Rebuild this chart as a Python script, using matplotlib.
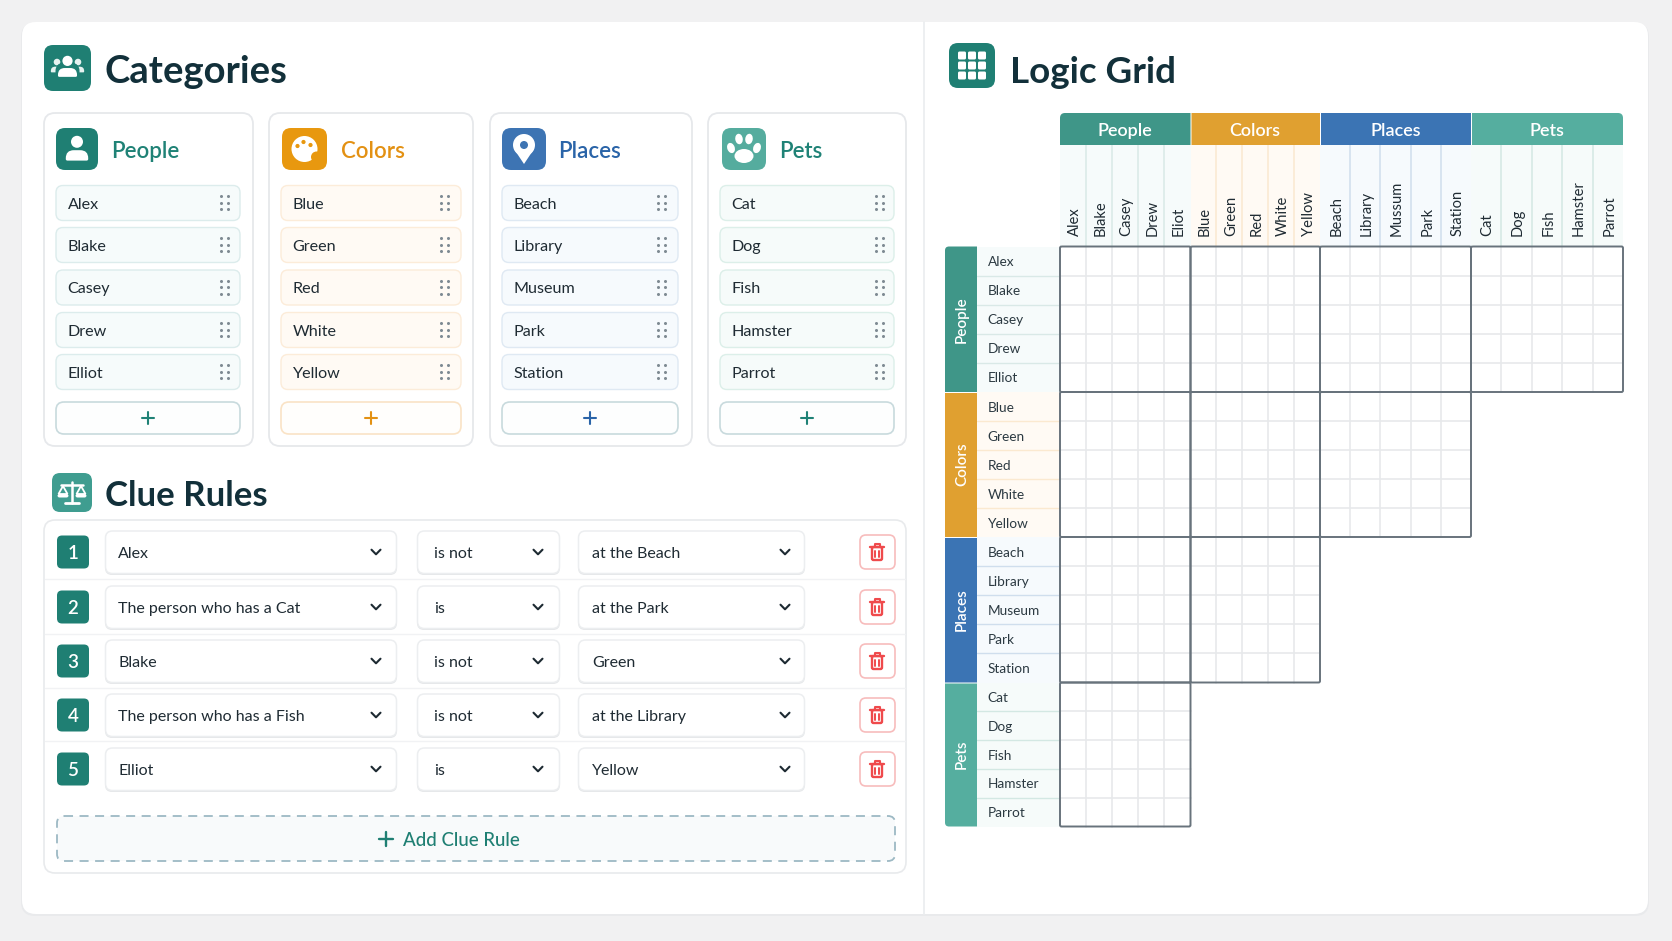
import matplotlib
matplotlib.use('Agg')
import matplotlib.pyplot as plt
from matplotlib.patches import PathPatch, Circle, Ellipse, Polygon, Rectangle
from matplotlib.path import Path

plt.rcParams['font.family'] = ['Lato', 'DejaVu Sans']

# data
categories = ['People', 'Colors', 'Places', 'Pets']
people = ['Alex', 'Blake', 'Casey', 'Drew', 'Elliot']
colors = ['Blue', 'Green', 'Red', 'White', 'Yellow']
places = ['Beach', 'Library', 'Museum', 'Park', 'Station']
pets = ['Cat', 'Dog', 'Fish', 'Hamster', 'Parrot']
# the grid header spells a few of them differently
col_people = ['Alex', 'Blake', 'Casey', 'Drew', 'Eliot']
col_places = ['Beach', 'Library', 'Mussum', 'Park', 'Station']

clue_subject = ['Alex', 'The person who has a Cat', 'Blake', 'The person who has a Fish', 'Elliot']
clue_verb = ['is not', 'is', 'is not', 'is not', 'is']
clue_object = ['at the Beach', 'at the Park', 'Green', 'at the Library', 'Yellow']

# styles
DARK = '#12303a'
ITEM = '#1f2b33'
TEAL = '#1f7f73'
icon_col = ['#1f7f73', '#e8980f', '#3d74b3', '#55ac9e']
label_col = ['#1f8276', '#e39113', '#2a64a8', '#1f8276']
band_col = ['#3f9688', '#e0a030', '#3b74b4', '#55ae9f']
tint_col = ['#f6fbfb', '#fffaf4', '#f6fafd', '#f6fbfa']
edge_col = ['#dcecec', '#fcecd9', '#dfe9f3', '#dcefe9']
line_col = ['#d9e9e7', '#fbe9d0', '#cfdeed', '#d3e8e3']

fig = plt.figure(figsize=(16.72, 9.41), dpi=100, facecolor='#f1f1f2')
ax = fig.add_axes([0, 0, 1, 1])
ax.set_xlim(0, 1672)
ax.set_ylim(941, 0)
ax.axis('off')


def box_path(x0, y0, x1, y1, tl=0, tr=0, br=0, bl=0):
    v = [(x0 + tl, y0), (x1 - tr, y0), (x1, y0), (x1, y0 + tr), (x1, y1 - br), (x1, y1),
         (x1 - br, y1), (x0 + bl, y1), (x0, y1), (x0, y1 - bl), (x0, y0 + tl), (x0, y0), (x0 + tl, y0)]
    c = [Path.MOVETO, Path.LINETO, Path.CURVE3, Path.CURVE3, Path.LINETO, Path.CURVE3, Path.CURVE3,
         Path.LINETO, Path.CURVE3, Path.CURVE3, Path.LINETO, Path.CURVE3, Path.CURVE3]
    return Path(v, c)


def box(x0, y0, x1, y1, r=8, fc='white', ec='none', lw=1.2, z=2, ls='-', radii=None):
    radii = radii if radii else (r, r, r, r)
    p = PathPatch(box_path(x0, y0, x1, y1, *radii), facecolor=fc, edgecolor=ec, lw=lw, zorder=z, linestyle=ls)
    ax.add_patch(p)
    return p


def txt(x, y, s, size=12, color=ITEM, ha='left', weight='normal', rot=0, va='center_baseline', z=8):
    ax.text(x, y, s, fontsize=size, color=color, ha=ha, va=va, fontweight=weight, rotation=rot,
            rotation_mode='anchor' if rot else 'default', zorder=z)


def line(xs, ys, color, lw=1.2, z=6, **kw):
    ax.plot(xs, ys, color=color, lw=lw, zorder=z, solid_capstyle=kw.pop('cap', 'round'), **kw)


def person(cx, cy, s, z=7, color='white'):
    ax.add_patch(Circle((cx, cy - 0.36 * s), 0.30 * s, fc=color, ec='none', zorder=z))
    box(cx - 0.56 * s, cy + 0.06 * s, cx + 0.56 * s, cy + 0.58 * s, fc=color, z=z,
        radii=(0.4 * s, 0.4 * s, 0.08 * s, 0.08 * s))


def icon_group(cx, cy, base):
    for dx in (-10.5, 10.5):
        person(cx + dx, cy - 1, 11, z=6, color='#e6f2f0')
    box(cx - 12, cy - 4, cx + 12, cy + 14, fc=base, z=6.5, radii=(8, 8, 2, 2))
    person(cx, cy, 17)


def icon_palette(cx, cy, base):
    ax.add_patch(Circle((cx, cy), 13, fc='white', ec='none', zorder=6))
    ax.add_patch(Circle((cx + 12, cy + 8), 5.5, fc=base, ec='none', zorder=6.5))
    for dx, dy in [(-7, -3), (-1, -7), (6, -4)]:
        ax.add_patch(Circle((cx + dx, cy + dy), 2.1, fc=base, ec='none', zorder=7))


def icon_pin(cx, cy, base):
    ax.add_patch(Circle((cx, cy - 4), 11, fc='white', ec='none', zorder=6))
    ax.add_patch(Polygon([(cx - 10, cy), (cx + 10, cy), (cx, cy + 15)], fc='white', ec='none', zorder=6))
    ax.add_patch(Circle((cx, cy - 4), 4, fc=base, ec='none', zorder=7))


def icon_paw(cx, cy, base):
    for dx, dy, a in [(-13, -1, -20), (-5, -10, -8), (5, -10, 8), (13, -1, 20)]:
        ax.add_patch(Ellipse((cx + dx, cy + dy), 7.5, 10.5, angle=a, fc='white', ec='none', zorder=6))
    ax.add_patch(Ellipse((cx, cy + 7), 19, 14, fc='white', ec='none', zorder=6))


def icon_scales(cx, cy):
    line([cx, cx], [cy - 11, cy + 10], 'white', 1.8)
    line([cx - 7, cx + 7], [cy + 10, cy + 10], 'white', 2)
    line([cx - 11, cx + 11], [cy - 8, cy - 8], 'white', 1.8)
    for dx in (-9, 9):
        ax.add_patch(Polygon([(cx + dx, cy - 7), (cx + dx - 4.5, cy + 1), (cx + dx + 4.5, cy + 1)], fc='none', ec='white', lw=1.3, zorder=6))
        box(cx + dx - 5.5, cy + 1, cx + dx + 5.5, cy + 4.5, r=2, fc='white', z=6)


def icon_grid(cx, cy):
    for i in (-1, 0, 1):
        for j in (-1, 0, 1):
            box(cx + i * 10 - 4, cy + j * 10 - 4, cx + i * 10 + 4, cy + j * 10 + 4, r=1.5, fc='white', z=6)


def icon_trash(cx, cy):
    c = '#ef4a4c'
    box(cx - 5, cy - 5, cx + 5, cy + 8, r=1.5, fc='none', ec=c, lw=1.7, z=6)
    line([cx - 7, cx + 7], [cy - 5.5, cy - 5.5], c, 1.7)
    line([cx - 2.5, cx - 2.5, cx + 2.5, cx + 2.5], [cy - 5.5, cy - 8, cy - 8, cy - 5.5], c, 1.5)
    line([cx - 1.8, cx - 1.8], [cy - 1.5, cy + 5], c, 1.4)
    line([cx + 1.8, cx + 1.8], [cy - 1.5, cy + 5], c, 1.4)


def chevron(cx, cy):
    line([cx - 4.5, cx, cx + 4.5], [cy - 2.3, cy + 2.3, cy - 2.3], '#1d2a32', 1.5)


def plus(cx, cy, s, color, lw=1.7):
    line([cx - s, cx + s], [cy, cy], color, lw)
    line([cx, cx], [cy - s, cy + s], color, lw)


# page card
box(21, 23, 1649, 916, r=14, fc='#e9eaec', z=1)
box(22, 22, 1648, 914, r=14, fc='white', z=1.2)
line([924, 924], [22, 914], '#eceef0', 1.3, z=1.5)

# Categories
box(44, 45, 91, 91, r=9, fc=TEAL)
icon_group(67.5, 67, TEAL)
txt(105, 69, 'Categories', 27.5, DARK, weight='bold')

card_x = [(44, 253), (269, 473), (490, 692), (708, 906)]
item_x = [(56, 240), (281, 461), (502, 678), (720, 894)]
icon_x = [(56, 98), (282, 327), (502, 546), (722, 766)]
label_x = [111.5, 340.5, 558.5, 779]
grab_x = [224.5, 444.5, 661.5, 879.5]
item_y = [203, 245, 287.5, 330, 372]
lists = [people, colors, places, pets]

for k, name in enumerate(categories):
    box(*[card_x[k][0], 113, card_x[k][1], 446], r=11, fc='white', ec='#e6e8eb', lw=1.3)
    box(icon_x[k][0], 128, icon_x[k][1], 170, r=9, fc=icon_col[k], z=3)
    cx = sum(icon_x[k]) / 2
    if k == 0:
        person(cx, 149, 20)
    elif k == 1:
        icon_palette(cx, 149, icon_col[k])
    elif k == 2:
        icon_pin(cx, 149, icon_col[k])
    else:
        icon_paw(cx, 149, icon_col[k])
    txt(label_x[k], 149, name, 16, label_col[k], weight='semibold')
    for y, item in zip(item_y, lists[k]):
        box(item_x[k][0], y - 17.5, item_x[k][1], y + 17.5, r=7, fc=tint_col[k], ec=edge_col[k], lw=1.0, z=3)
        txt(item_x[k][0] + 11.5, y, item, 11.6, ITEM)
        gx = [grab_x[k] - 3.2] * 3 + [grab_x[k] + 3.2] * 3
        gy = [y - 6.5, y, y + 6.5] * 2
        ax.plot(gx, [g - 0.5 for g in gy], 'o', ms=2.2, color='#7f8b93', mec='none', zorder=6)
    box(item_x[k][0], 402, item_x[k][1], 434, r=8, fc='#fdfefe' if k != 1 else '#fffefc',
        ec='#fae3c6' if k == 1 else '#c8dadd', lw=1.2, z=3)
    plus(sum(item_x[k]) / 2, 418, 6, label_col[k], 1.5)

# Clue rules
box(52, 473, 92, 512, r=8, fc='#3f9d90')
icon_scales(72, 493)
txt(105, 493, 'Clue Rules', 25, DARK, weight='bold')
box(44, 520, 906, 873, r=11, fc='white', ec='#e8eaec', lw=1.2)

row_y = [552, 607, 661, 715, 769]
fields = [(105, 397, 376, 118), (417, 560, 538, 434), (578, 805, 785, 592)]
for y in [579, 634, 688, 741]:
    line([45, 905], [y, y], '#f1f2f4', 1.0, z=2.5)
for i, y in enumerate(row_y):
    box(57, y - 16.5, 89, y + 16.5, r=5, fc=TEAL, z=3)
    txt(73, y, str(i + 1), 13.5, 'white', ha='center', weight='semibold')
    values = [clue_subject[i], clue_verb[i], clue_object[i]]
    for (x0, x1, chev, tx), v in zip(fields, values):
        box(x0, y - 20, x1, y + 23, r=7, fc='#e5e7e9', z=3)
        box(x0 + 0.5, y - 21, x1 - 0.5, y + 21.5, r=7, fc='white', ec='#eceef0', lw=1.1, z=3.2)
        txt(tx, y + 0.5, v, 11.5, ITEM)
        chevron(chev, y)
    box(860, y - 17, 895, y + 17, r=6, fc='white', ec='#f7bcbc', lw=1.2, z=3)
    icon_trash(877, y)

box(57, 816, 895, 861, r=7, fc='#f8fafb', ec='#9db9c4', lw=1.3, z=3, ls=(0, (5, 3.6)))
plus(386, 838.5, 7, TEAL, 1.7)
txt(403, 839, 'Add Clue Rule', 13.4, TEAL, weight='medium')

# Logic grid
box(949, 43, 995, 88, r=9, fc=TEAL)
icon_grid(972, 65.5)
txt(1010, 69, 'Logic Grid', 26.5, DARK, weight='bold')

col_edges = [1060, 1190.5, 1320, 1471, 1623]
row_edges = [246.5, 392, 537, 682.5, 826.5]
col_lists = [col_people, colors, col_places, pets]
row_lists = [people, colors, places, pets]

for k, name in enumerate(categories):
    x0, x1 = col_edges[k], col_edges[k + 1]
    y0, y1 = row_edges[k], row_edges[k + 1]
    # top band and rotated labels
    radii = (5, 0, 0, 0) if k == 0 else ((0, 5, 0, 0) if k == 3 else None)
    box(x0 + (1 if k else 0), 113, x1, 145, r=0, fc=band_col[k], z=3, radii=radii)
    txt((x0 + x1) / 2, 129, name, 13, 'white', ha='center', weight='semibold')
    ax.add_patch(Rectangle((x0, 145), x1 - x0, row_edges[0] - 145, fc=tint_col[k], ec='none', zorder=2))
    step = (x1 - x0) / 5
    for j, lab in enumerate(col_lists[k]):
        xc = x0 + step * (j + 0.5)
        if j:
            line([x0 + step * j] * 2, [145, row_edges[0]], line_col[k], 1.1, z=2.5)
        txt(xc + 5.5, 236, lab, 10.6, ITEM, ha='left', rot=90, va='baseline')
    # left band and row labels
    r_b = (4 if k == 0 else 0, 0, 0, 4 if k == 3 else 0)
    box(945, y0 + (1 if k else 0), 977, y1, fc=band_col[k], z=3, radii=r_b)
    txt(966, (y0 + y1) / 2, name, 11, 'white', ha='center', weight='semibold', rot=90, va='baseline')
    ax.add_patch(Rectangle((977, y0), 83, y1 - y0, fc=tint_col[k], ec='none', zorder=2))
    rstep = (y1 - y0) / 5
    for j, lab in enumerate(row_lists[k]):
        if j:
            line([977, 1060], [y0 + rstep * j] * 2, line_col[k], 1.0, z=2.5)
        txt(987.5, y0 + rstep * (j + 0.5), lab, 9.8, '#2c3a42')

# grid cells, staircase of blocks
for r in range(4):
    for c in range(4 - r):
        x0, x1 = col_edges[c], col_edges[c + 1]
        y0, y1 = row_edges[r], row_edges[r + 1]
        for j in range(1, 5):
            xv = x0 + (x1 - x0) * j / 5
            yv = y0 + (y1 - y0) * j / 5
            line([xv, xv], [y0, y1], '#e7e9eb', 1.2, z=4)
            line([x0, x1], [yv, yv], '#e7e9eb', 1.2, z=4)
        box(x0, y0, x1, y1, r=1.5, fc='none', ec='#68737c', lw=1.4, z=5)

fig.savefig('out.png', dpi=100, facecolor=fig.get_facecolor())
